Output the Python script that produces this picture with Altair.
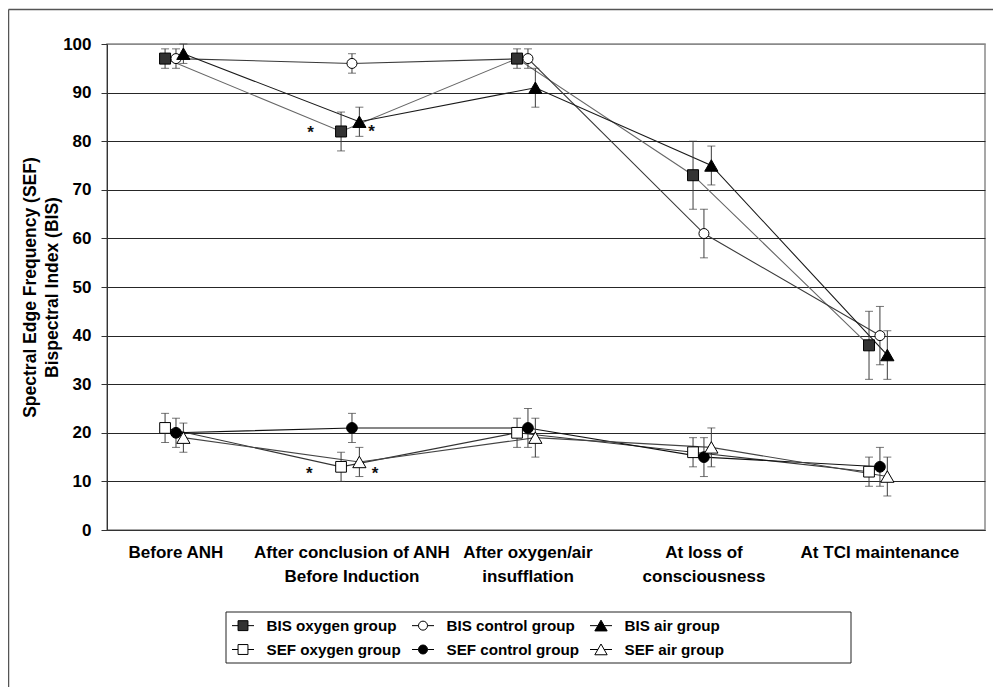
import altair as alt
import pandas as pd

FONT = "Liberation Sans"

# ---------------- data ----------------
categories = [
    "Before ANH",
    "After conclusion of ANH\nBefore Induction",
    "After oxygen/air\ninsufflation",
    "At loss of\nconsciousness",
    "At TCI maintenance",
]

series_names = [
    "BIS oxygen group", "BIS control group", "BIS air group",
    "SEF oxygen group", "SEF control group", "SEF air group",
]

bis_oxygen = [97, 82, 97, 73, 38]
bis_oxygen_sd = [2, 4, 2, 7, 7]
bis_control = [97, 96, 97, 61, 40]
bis_control_sd = [2, 2, 2, 5, 6]
bis_air = [98, 84, 91, 75, 36]
bis_air_sd = [2, 3, 4, 4, 5]
sef_oxygen = [21, 13, 20, 16, 12]
sef_oxygen_sd = [3, 3, 3, 3, 3]
sef_control = [20, 21, 21, 15, 13]
sef_control_sd = [3, 3, 4, 4, 4]
sef_air = [19, 14, 19, 17, 11]
sef_air_sd = [3, 3, 4, 4, 4]

# asterisks (significance marks): category position, value
star_pos = [1.765, 2.112, 1.757, 2.131]
star_val = [82.8, 83.0, 12.6, 12.6]

values = [bis_oxygen, bis_control, bis_air, sef_oxygen, sef_control, sef_air]
sds = [bis_oxygen_sd, bis_control_sd, bis_air_sd, sef_oxygen_sd, sef_control_sd, sef_air_sd]

# ---------------- styles ----------------
dodge = {"oxygen": -0.062, "control": 0.0, "air": 0.042}
styles = {
    "BIS oxygen group": dict(shape="square", fill="#333333", size=121, line="#666666"),
    "BIS control group": dict(shape="circle", fill="white", size=100, line="#3a3a3a"),
    "BIS air group": dict(shape="triangle-up", fill="black", size=175, line="#1a1a1a"),
    "SEF oxygen group": dict(shape="square", fill="white", size=115, line="#333333"),
    "SEF control group": dict(shape="circle", fill="black", size=115, line="#111111"),
    "SEF air group": dict(shape="triangle-up", fill="white", size=175, line="#444444"),
}

rows = []
for name, vals, sd in zip(series_names, values, sds):
    off = dodge[name.split()[1]]
    for i, (v, s) in enumerate(zip(vals, sd)):
        rows.append(dict(series=name, x=i + 1 + off, value=v, lo=v - s, hi=v + s))
df = pd.DataFrame(rows)

df_cat = pd.DataFrame({"idx": list(range(1, len(categories) + 1)), "label": categories})
df_star = pd.DataFrame({"x": star_pos, "value": star_val, "t": ["*"] * len(star_pos)})
df_leg = pd.DataFrame({"series": series_names, "x": [1] * 6, "value": [-50] * 6})
one = pd.DataFrame({"a": [0]})

W, H = 878, 486
PAD = {"left": 99, "top": 36, "right": 8, "bottom": 157}

xscale = alt.Scale(domain=[0.608, 5.597], nice=False, zero=False)
yscale = alt.Scale(domain=[0, 100], nice=False)

xaxis = alt.Axis(labels=False, ticks=False, grid=False, domainColor="#333333",
                 domainWidth=1, title=None)
yaxis = alt.Axis(values=list(range(0, 101, 10)), grid=True,
                 gridColor={"condition": {"test": "datum.value === 100", "value": "#8a8a8a"},
                            "value": "#262626"},
                 gridWidth=1, tickSize=6, tickColor="#333333", domainColor="#333333",
                 labelFont=FONT, labelFontSize=17, labelFontWeight="bold",
                 labelColor="black", labelPadding=10,
                 title=["Spectral Edge Frequency (SEF)", "Bispectral Index (BIS)"],
                 titleFont=FONT, titleFontSize=17.5, titleFontWeight="bold",
                 titleColor="black", titleLineHeight=22, titlePadding=1)

X = alt.X("x:Q", scale=xscale, axis=xaxis)
Y = alt.Y("value:Q", scale=yscale, axis=yaxis)
YLO = alt.Y("lo:Q", scale=yscale, axis=yaxis)
YHI = alt.Y("hi:Q", scale=yscale, axis=yaxis)

base = alt.Chart(df)
layers = []

# lines
for name in series_names:
    st = styles[name]
    layers.append(
        base.transform_filter(alt.datum.series == name)
        .mark_line(color=st["line"], strokeWidth=1.1)
        .encode(x=X, y=Y)
    )

# error bars
layers.append(base.mark_rule(color="#3c3c3c", strokeWidth=1).encode(x=X, y=YLO, y2="hi:Q"))
layers.append(base.mark_tick(color="#3c3c3c", orient="horizontal", size=8, thickness=1).encode(x=X, y=YLO))
layers.append(base.mark_tick(color="#3c3c3c", orient="horizontal", size=8, thickness=1).encode(x=X, y=YHI))

# markers
for name in series_names:
    st = styles[name]
    layers.append(
        base.transform_filter(alt.datum.series == name)
        .mark_point(shape=st["shape"], fill=st["fill"], stroke="black", strokeWidth=1,
                    size=st["size"], opacity=1, fillOpacity=1)
        .encode(x=X, y=Y)
    )

# asterisks
layers.append(alt.Chart(df_star).mark_text(
    font=FONT, fontSize=17, fontWeight="bold", color="#111111",
    baseline="alphabetic", align="center", dy=10).encode(x=X, y=Y, text="t:N"))

# category labels
layers.append(alt.Chart(df_cat).mark_text(
    font=FONT, fontSize=17, fontWeight="bold", color="black", align="center",
    baseline="alphabetic", lineBreak="\n", lineHeight=24).encode(
    x=alt.X("idx:Q", scale=xscale, axis=xaxis), y=alt.value(513.7), text="label:N"))

# outer frame and legend box (decoration)
layers.append(alt.Chart(one).mark_rule(color="#555555", strokeWidth=1.5).encode(
    x=alt.value(-98.5), x2=alt.value(886), y=alt.value(-34.5)))
layers.append(alt.Chart(one).mark_rule(color="#555555", strokeWidth=1.5).encode(
    x=alt.value(-98.5), y=alt.value(-34.5), y2=alt.value(643)))
layers.append(alt.Chart(one).mark_rect(fill="white", stroke="#222222", strokeWidth=1).encode(
    x=alt.value(119), x2=alt.value(744), y=alt.value(568), y2=alt.value(619)))

# legend (via a clipped point layer placed outside the y domain)
p_sq = "M-0.45,-0.45H0.45V0.45H-0.45Z"
p_ci = "M-0.41,0A0.41,0.41,0,1,0,0.41,0A0.41,0.41,0,1,0,-0.41,0Z"
p_tr = "M0,-0.5L-0.56,0.48L0.56,0.48Z"
ln_sq = "M-1,0H-0.45M0.45,0H1"
ln_ci = "M-1,0H-0.41M0.41,0H1"
ln_tr = "M-1,0H-0.28M0.28,0H1"
path_of = {"square": ln_sq + p_sq, "circle": ln_ci + p_ci, "triangle-up": ln_tr + p_tr}

# legend is filled column by column: order entries so rows read BIS / SEF
leg_order = [series_names[i] for i in (0, 3, 1, 4, 2, 5)]
leg_paths = [path_of[styles[n]["shape"]] for n in leg_order]
leg_fill = [styles[n]["fill"] for n in leg_order]

legend = alt.Legend(orient="none", legendX=124.5, legendY=570, columns=3, title=None,
                    padding=0, symbolSize=484, symbolStrokeWidth=1, labelFont=FONT,
                    labelFontSize=15.2, labelFontWeight="bold", labelColor="black",
                    labelOffset=12, columnPadding=8, rowPadding=4, labelLimit=300)

layers.append(alt.Chart(df_leg).mark_point(opacity=1, clip=True, strokeWidth=1).encode(
    x=X, y=Y,
    shape=alt.Shape("series:N", scale=alt.Scale(domain=leg_order, range=leg_paths), legend=legend),
    fill=alt.Fill("series:N", scale=alt.Scale(domain=leg_order, range=leg_fill), legend=legend),
    stroke=alt.Stroke("series:N", scale=alt.Scale(domain=leg_order, range=["black"] * 6), legend=legend),
))

chart = alt.layer(*layers).properties(
    width=W, height=H, padding=PAD, autosize=alt.AutoSizeParams(type="none"), background="white"
).configure_view(stroke="#8a8a8a", strokeWidth=1.5)

chart.save("out.html", embed_options={"renderer": "svg", "actions": False})
